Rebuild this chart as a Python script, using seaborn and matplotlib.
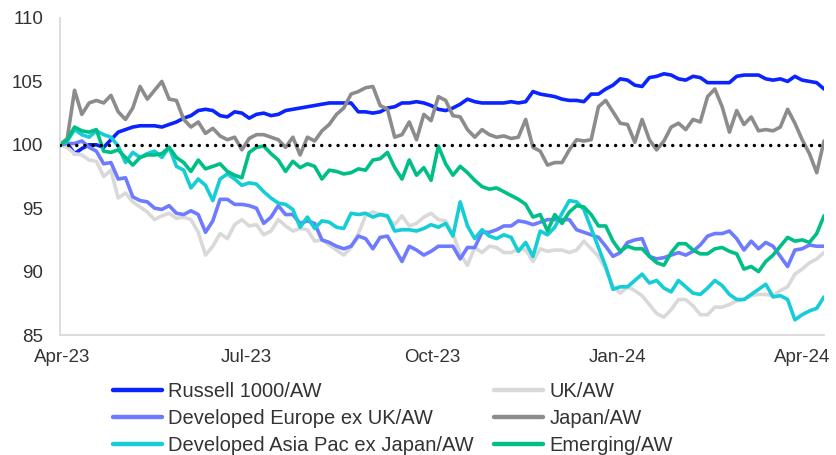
import matplotlib
matplotlib.use("Agg")
import matplotlib.pyplot as plt
from matplotlib.lines import Line2D
import seaborn as sns
import pandas as pd
import numpy as np

sns.set_style("white")
plt.rcParams["font.family"] = ["Liberation Sans", "DejaVu Sans"]

# ---- data (about twice a week) ----
dates = pd.to_datetime("2023-03-31") + pd.to_timedelta(np.arange(105) * 3.6, unit="D")
dates = dates.append(pd.DatetimeIndex(["2024-04-12"]))

russell = [100.0, 100.1, 99.3, 99.7, 100.0, 100.0, 99.8, 100.4, 101.0, 101.2, 101.4, 101.5, 101.5, 101.5,
           101.4, 101.6, 101.8, 102.1, 102.3, 102.7, 102.8, 102.7, 102.3, 102.2, 102.6, 102.5, 102.1, 102.4,
           102.5, 102.3, 102.4, 102.7, 102.8, 102.9, 103.0, 103.1, 103.2, 103.3, 103.3, 103.3, 103.3, 102.6,
           102.6, 102.5, 102.6, 102.9, 103.0, 103.3, 103.3, 103.4, 103.3, 103.1, 102.8, 102.7,
           102.9, 103.2, 103.6, 103.4, 103.3, 103.3, 103.3, 103.3, 103.4, 103.3, 103.4, 104.2, 104.0, 103.9,
           103.8, 103.6, 103.5, 103.5, 103.4, 104.0, 104.0, 104.4, 104.7, 105.2, 105.1, 104.7,
           104.6, 105.3, 105.4, 105.6, 105.5, 105.2, 105.1, 105.4, 105.3, 104.9, 104.9, 104.9, 104.9, 105.4,
           105.5, 105.5, 105.5, 105.2, 105.1, 105.2, 105.0, 105.4, 105.1, 105.0, 104.9, 104.4]
uk = [100.0, 99.8, 99.3, 99.2, 98.8, 98.7, 97.5, 98.0, 95.8, 96.2, 95.5, 95.1, 94.7, 94.1,
      94.4, 94.6, 94.2, 94.3, 94.1, 93.1, 91.3, 92.0, 93.0, 92.6, 93.7, 94.1, 93.6, 93.7,
      92.9, 93.2, 94.1, 93.6, 93.2, 93.4, 93.3, 92.4, 92.5, 92.1, 91.7, 91.3, 91.9, 93.0,
      94.4, 94.7, 94.5, 94.3, 93.7, 94.4, 93.6, 93.8, 94.3, 94.6, 94.1, 94.0,
      93.0, 91.4, 90.5, 91.9, 91.5, 92.0, 91.9, 91.5, 91.5, 91.8, 91.7, 90.8, 91.8, 91.6,
      91.7, 91.7, 91.5, 91.7, 92.4, 91.8, 91.2, 90.2, 88.9, 88.3, 88.8, 88.5,
      88.1, 87.4, 86.7, 86.4, 87.0, 87.8, 87.8, 87.3, 86.6, 86.6, 87.2, 87.2, 87.4, 87.7,
      87.8, 88.1, 88.2, 88.2, 88.1, 88.5, 88.8, 89.8, 90.2, 90.7, 91.0, 91.5]
europe = [100.0, 100.1, 100.1, 100.3, 99.8, 99.5, 98.5, 98.6, 97.3, 97.4, 95.9, 95.6, 95.5, 95.0,
          94.9, 95.2, 94.6, 94.5, 94.8, 94.5, 93.1, 94.0, 95.7, 95.7, 95.3, 95.3, 95.2, 95.0,
          93.8, 94.3, 95.2, 94.5, 94.5, 93.8, 94.0, 93.8, 92.5, 92.3, 92.0, 91.8, 92.0, 92.8,
          92.6, 91.8, 92.7, 92.8, 91.8, 90.8, 92.0, 91.7, 91.3, 91.6, 92.0, 92.0,
          92.0, 91.0, 91.9, 91.9, 93.1, 93.1, 93.3, 93.6, 93.6, 94.0, 93.9, 93.7, 93.9, 94.1,
          94.1, 94.1, 94.1, 93.3, 93.1, 92.9, 92.7, 92.0, 91.2, 91.5, 92.3, 92.5,
          92.6, 91.2, 91.0, 91.1, 91.3, 91.5, 91.3, 91.6, 92.1, 92.8, 93.0, 93.0, 93.2, 92.6,
          91.7, 92.4, 91.8, 92.3, 92.0, 91.2, 90.4, 91.7, 91.8, 92.1, 92.0, 92.0]
japan = [100.0, 100.5, 104.3, 102.4, 103.3, 103.5, 103.3, 103.9, 102.6, 102.0, 102.9, 104.6, 103.6, 104.3,
         105.0, 103.6, 103.5, 102.0, 101.4, 101.8, 100.9, 101.3, 100.7, 100.4, 100.6, 99.6, 100.5, 100.8,
         100.8, 100.6, 100.4, 99.8, 100.6, 99.2, 100.6, 100.3, 101.1, 101.6, 102.4, 102.9, 104.0, 104.2,
         104.5, 104.6, 103.1, 102.8, 100.6, 100.8, 101.8, 100.4, 102.4, 101.9, 103.8, 103.5,
         102.3, 102.2, 101.2, 100.6, 101.2, 100.8, 100.6, 100.7, 100.5, 100.6, 102.0, 99.8, 99.5, 98.4,
         98.6, 98.6, 99.6, 100.4, 100.3, 100.4, 103.0, 103.5, 102.6, 101.7, 101.6, 100.2,
         102.0, 100.4, 99.6, 100.3, 101.4, 101.7, 101.2, 102.0, 101.8, 103.8, 104.4, 103.0, 101.0, 102.7,
         101.6, 102.2, 101.1, 101.2, 101.1, 101.4, 102.8, 101.7, 100.4, 99.3, 97.8, 100.3]
asia_pac = [100.0, 100.3, 101.2, 100.8, 100.6, 101.1, 100.8, 100.6, 99.9, 98.6, 99.4, 99.0, 99.3, 99.5,
            99.0, 99.8, 98.3, 98.0, 96.6, 97.3, 96.8, 95.6, 97.3, 97.7, 97.3, 96.8, 97.0, 96.9,
            96.3, 95.8, 95.4, 95.3, 94.9, 93.5, 94.3, 93.4, 94.0, 93.9, 93.5, 93.4, 94.6, 94.5,
            94.6, 94.3, 94.5, 94.4, 93.2, 93.3, 93.3, 93.2, 93.4, 93.7, 93.5, 93.8,
            92.8, 95.5, 93.6, 92.6, 93.3, 92.8, 92.6, 92.9, 92.7, 91.6, 92.3, 91.2, 93.2, 92.9,
            93.5, 94.6, 95.6, 95.5, 94.9, 93.4, 91.9, 90.4, 88.6, 88.8, 88.8, 89.3,
            89.8, 89.1, 89.3, 88.7, 88.4, 89.3, 88.8, 88.3, 88.2, 88.7, 89.3, 88.9, 88.2, 87.8,
            87.8, 88.2, 88.6, 89.0, 88.0, 88.1, 87.8, 86.2, 86.6, 86.9, 87.1, 88.0]
emerging = [100.0, 100.4, 101.4, 101.1, 101.0, 101.2, 99.5, 99.4, 99.6, 99.0, 98.4, 99.0, 99.2, 99.2,
            99.3, 99.8, 99.0, 98.6, 97.9, 98.8, 98.1, 98.3, 98.5, 97.9, 97.6, 97.4, 99.4, 99.8,
            99.9, 99.3, 98.8, 97.9, 98.7, 98.2, 98.5, 98.3, 97.3, 98.0, 97.9, 97.7, 97.8, 98.1,
            98.0, 98.8, 98.9, 99.4, 98.2, 97.3, 98.8, 97.6, 98.2, 97.2, 99.9, 98.5,
            97.6, 98.3, 97.8, 97.2, 96.7, 96.5, 96.6, 96.3, 96.0, 95.7, 95.3, 94.3, 94.5, 93.2,
            94.5, 93.8, 94.7, 95.2, 95.1, 94.5, 93.6, 93.6, 92.4, 91.6, 92.0, 91.8,
            91.8, 91.2, 90.7, 90.5, 91.5, 92.2, 92.2, 91.7, 91.4, 91.4, 91.8, 91.9, 91.6, 91.4,
            90.2, 90.4, 90.0, 90.8, 91.3, 92.0, 92.7, 92.4, 92.5, 92.3, 93.0, 94.4]

series_names = ["Russell 1000/AW", "UK/AW", "Developed Europe ex UK/AW", "Japan/AW",
                "Developed Asia Pac ex Japan/AW", "Emerging/AW"]
series_values = [russell, uk, europe, japan, asia_pac, emerging]
colors = ["#0A24FF", "#D9D9D9", "#6E7BFF", "#8C8C8C", "#14CDD6", "#00BF86"]
base_level = 100

tick_dates = ["2023-04-01", "2023-07-01", "2023-10-01", "2024-01-01", "2024-04-01"]
tick_labels = ["Apr-23", "Jul-23", "Oct-23", "Jan-24", "Apr-24"]
y_ticks = [85, 90, 95, 100, 105, 110]

df = pd.concat([pd.DataFrame({"date": dates, "value": v, "series": n})
                for n, v in zip(series_names, series_values)], ignore_index=True)
palette = dict(zip(series_names, colors))

# ---- figure ----
fig = plt.figure(figsize=(8.37, 4.55), dpi=100)
ax = fig.add_axes([60 / 837, 1 - 335 / 455, (824 - 60) / 837, (335 - 18) / 455])

sns.lineplot(data=df, x="date", y="value", hue="series", hue_order=series_names,
             palette=palette, linewidth=2.6, estimator=None, legend=False, ax=ax)
ax.axhline(base_level, color="black", linewidth=2.5, dashes=(0.001, 2.35),
           dash_capstyle="round", zorder=5)

ax.set_ylim(85, 110)
ax.set_yticks(y_ticks)
ax.set_xlim(dates[0], dates[-1])
ax.set_xticks(pd.to_datetime(tick_dates))
ax.set_xticklabels(tick_labels)
ax.set_xlabel("")
ax.set_ylabel("")
ax.tick_params(axis="both", length=0, labelsize=13.5, labelcolor="#333333")
ax.tick_params(axis="y", pad=12)
ax.tick_params(axis="x", pad=10)
for s in ["top", "right"]:
    ax.spines[s].set_visible(False)
for s in ["left", "bottom"]:
    ax.spines[s].set_color("#D9D9D9")
    ax.spines[s].set_linewidth(1.3)

handles = [Line2D([0], [0], color=c, lw=3.2) for c in colors]
order = [0, 2, 4, 1, 3, 5]
fig.legend([handles[i] for i in order], [series_names[i] for i in order],
           ncol=2, loc="upper left", bbox_to_anchor=(113 / 837, 1 - 382 / 455),
           frameon=False, fontsize=14.5, handlelength=2.45, handletextpad=0.3,
           columnspacing=1.0, labelspacing=0.40, borderpad=0, borderaxespad=0,
           labelcolor="#333333")

fig.savefig("out.png", dpi=100)
